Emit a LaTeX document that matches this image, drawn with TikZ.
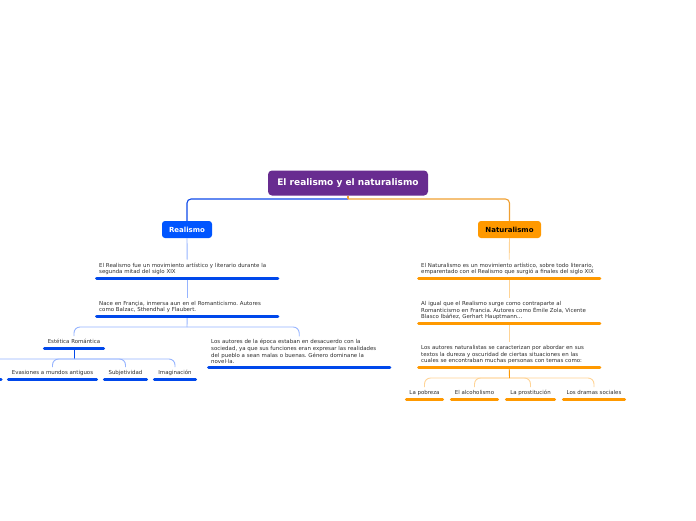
\documentclass[tikz,border=0pt]{standalone}
\usepackage{fontspec}
\setmainfont{DejaVu Sans}
\frenchspacing
\definecolor{purp}{RGB}{104,44,144}
\definecolor{rblue}{RGB}{0,85,255}
\definecolor{ublue}{RGB}{0,72,235}
\definecolor{cblue}{RGB}{15,75,235}
\definecolor{lblue}{RGB}{150,180,255}
\definecolor{orng}{RGB}{255,153,0}
\definecolor{corng}{RGB}{240,160,50}
\definecolor{lorng}{RGB}{255,212,150}
\definecolor{txt}{RGB}{45,45,45}
\begin{document}
\begin{tikzpicture}[x=1pt,y=-1pt,
  rootbox/.style={fill=purp, rounded corners=4pt, text=white, font=\fontsize{9}{10}\selectfont\bfseries, minimum width=160pt, minimum height=25pt, inner sep=0pt},
  mainbox/.style={rounded corners=3pt, font=\fontsize{7}{8}\selectfont\bfseries, minimum height=17pt, inner sep=0pt},
  body/.style={font=\fontsize{5.45}{6.6}\selectfont, text=txt, align=left, inner xsep=2.5pt, inner ysep=3pt, anchor=south west},
  lab/.style={font=\fontsize{5.45}{6.6}\selectfont, text=txt, inner xsep=0pt, inner ysep=3pt, text height=4.2pt, text depth=1.3pt, anchor=south},
  ulb/.style={draw=ublue, line width=3pt, line cap=round},
  ulo/.style={draw=orng, line width=3pt, line cap=round},
  cb/.style={draw=cblue, line width=1.1pt, rounded corners=4pt},
  co/.style={draw=corng, line width=1.1pt, rounded corners=4pt},
  lb/.style={draw=lblue, line width=0.9pt, rounded corners=6pt},
  lo/.style={draw=lorng, line width=0.9pt, rounded corners=6pt}]
\useasboundingbox (0,0) rectangle (696,520);
\clip (0,0) rectangle (696,520);
\fill[white] (0,0) rectangle (696,520);

% main nodes
\node[rootbox] (root) at (348,183) {El realismo y el naturalismo};
\node[mainbox, fill=rblue, text=white, minimum width=50pt] (real) at (187,229.5) {Realismo};
\node[mainbox, fill=orng, text=black, minimum width=63pt] (nat) at (509.5,229.5) {Naturalismo};

\coordinate (jr) at (348,199);
\draw[cb] (jr) -| (real.north);
\draw[co] (jr) -| (nat.north);
\draw[draw=corng, line width=1.1pt] (root.south) -- (jr);

% Realismo branch
\node[body, text width=176pt] (r1) at (96.5,278) {El Realismo fue un movimiento artístico y literario durante la\\segunda mitad del siglo XIX};
\node[body, text width=176pt] (r2) at (96.5,316) {Nace en Françia, inmersa aun en el Romanticismo. Autores\\como Balzac, Sthendhal y Flaubert.};
\node[lab, minimum width=59pt] (er) at (74,348) {Estética Romántica};
\node[body, text width=176pt] (la) at (208.5,367) {Los autores de la época estaban en desacuerdo con la\\sociedad, ya que sus funciones eran expresar las realidades\\del pueblo a sean malas o buenas. Género dominane la\\novel·la.};
\node[lab, minimum width=88pt] (ev) at (52.5,379) {Evasiones a mundos antiguos};
\node[lab, minimum width=42pt] (sb) at (125.5,379) {Subjetividad};
\node[lab, minimum width=41pt] (im) at (175,379) {Imaginación};
\node[lab, minimum width=80pt] (fr) at (-39,379) {};

\draw[lb] (real.south) -- (r1.north);
\draw[lb] (r1.south) -- (r2.north);
\coordinate (j1) at (187,327);
\draw[lb] (r2.south) -- (j1);
\draw[lb] (j1) -| (er.north);
\draw[lb] (j1) -| (la.north);
\coordinate (j2) at (74,359);
\draw[draw=ublue, line width=0.9pt] (er.south) -- (j2);
\draw[lb] (j2) -| (fr.north);
\draw[lb] (j2) -| (ev.north);
\draw[lb] (j2) -| (sb.north);
\draw[lb] (j2) -| (im.north);

\foreach \n in {r1,r2,er,la,ev,sb,im,fr}
  \draw[ulb] (\n.south west) -- (\n.south east);

% Naturalismo branch
\node[body, text width=176pt] (n1) at (418.5,278) {El Naturalismo es un movimiento artístico, sobre todo literario,\\emparentado con el Realismo que surgió a finales del siglo XIX};
\node[body, text width=176pt] (n2) at (418.5,323) {Al igual que el Realismo surge como contraparte al\\Romanticismo en Francia. Autores como Émile Zola, Vicente\\Blasco Ibáñez, Gerhart Hauptmann...};
\node[body, text width=176pt] (n3) at (418.5,367) {Los autores naturalistas se caracterizan por abordar en sus\\textos la dureza y oscuridad de ciertas situaciones en las\\cuales se encontraban muchas personas con temas como:};
\node[lab, minimum width=36pt] (po) at (424.5,399) {La pobreza};
\node[lab, minimum width=46pt] (al) at (474.5,399) {El alcoholismo};
\node[lab, minimum width=48pt] (pr) at (530.5,399) {La prostitución};
\node[lab, minimum width=61pt] (ds) at (594,399) {Los dramas sociales};

\draw[lo] (nat.south) -- (n1.north);
\draw[lo] (n1.south) -- (n2.north);
\draw[lo] (n2.south) -- (n3.north);
\coordinate (j3) at (509.5,378);
\draw[lo] (j3) -| (po.north);
\draw[lo] (j3) -| (al.north);
\draw[lo] (j3) -| (pr.north);
\draw[lo] (j3) -| (ds.north);
\draw[draw=orng, line width=0.9pt] (n3.south) -- (j3);

\foreach \n in {n1,n2,n3,po,al,pr,ds}
  \draw[ulo] (\n.south west) -- (\n.south east);
\end{tikzpicture}
\end{document}
